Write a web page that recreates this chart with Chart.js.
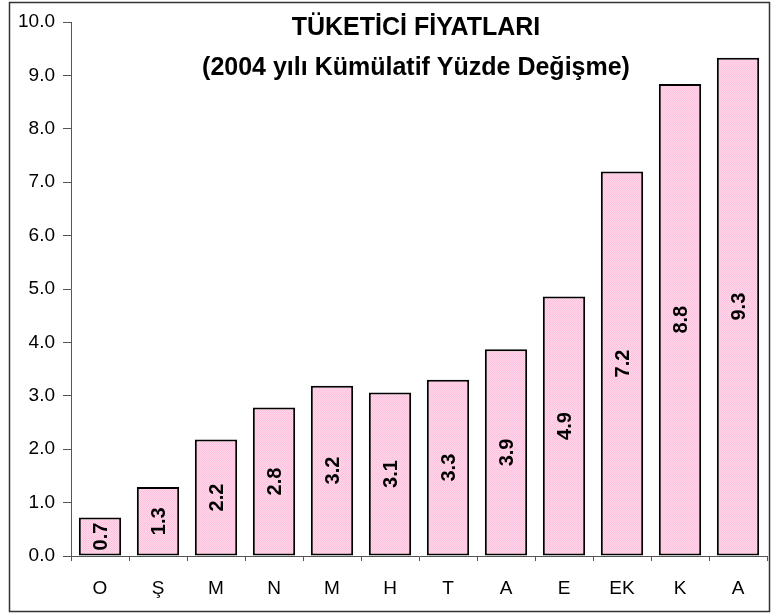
<!DOCTYPE html>
<html>
<head>
<meta charset="utf-8">
<script src="https://cdn.jsdelivr.net/npm/chart.js@4.4.1/dist/chart.umd.min.js"></script>
<style>
body { margin: 0; background: #fff; }
</style>
</head>
<body>
<canvas id="grafico" width="783" height="615"></canvas>
<script>
const aylar = ['O', 'Ş', 'M', 'N', 'M', 'H', 'T', 'A', 'E', 'EK', 'K', 'A'];
const degisim = [0.72, 1.29, 2.18, 2.78, 3.19, 3.06, 3.30, 3.87, 4.86, 7.20, 8.84, 9.33];
const baslik = ['TÜKETİCİ FİYATLARI', '(2004 yılı Kümülatif Yüzde Değişme)'];

const yazi = '"Liberation Sans", Arial, sans-serif';

// pembe noktali dolgu
const desen = document.createElement('canvas');
desen.width = 2;
desen.height = 2;
const dctx = desen.getContext('2d');
dctx.fillStyle = '#ffd6ea';
dctx.fillRect(0, 0, 2, 2);
dctx.fillStyle = '#ffc2de';
dctx.fillRect(0, 0, 1, 1);
dctx.fillRect(1, 1, 1, 1);
const pembe = dctx.createPattern(desen, 'repeat');

const cerceve = {
    id: 'cerceve',
    beforeDraw(chart) {
        const ctx = chart.ctx;
        ctx.save();
        ctx.fillStyle = '#fff';
        ctx.fillRect(0, 0, chart.width, chart.height);
        ctx.strokeStyle = '#333';
        ctx.lineWidth = 1.5;
        ctx.strokeRect(9.5, 2.5, 760, 609);
        ctx.restore();
    }
};

const etiketler = {
    id: 'etiketler',
    afterDatasetsDraw(chart) {
        const ctx = chart.ctx;
        const meta = chart.getDatasetMeta(0);
        ctx.save();
        ctx.font = 'bold 20px ' + yazi;
        ctx.fillStyle = '#000';
        ctx.textAlign = 'center';
        ctx.textBaseline = 'middle';
        meta.data.forEach((bar, i) => {
            ctx.save();
            ctx.translate(bar.x + 1, (bar.y + bar.base) / 2);
            ctx.rotate(-Math.PI / 2);
            ctx.fillText(degisim[i].toFixed(1), 0, 0);
            ctx.restore();
        });
        ctx.restore();
    }
};

const baslikCiz = {
    id: 'baslikCiz',
    afterDraw(chart) {
        const ctx = chart.ctx;
        const orta = (chart.chartArea.left + chart.chartArea.right) / 2;
        ctx.save();
        ctx.font = 'bold 25px ' + yazi;
        ctx.fillStyle = '#000';
        ctx.textAlign = 'center';
        ctx.textBaseline = 'alphabetic';
        ctx.fillText(baslik[0], orta - 3, 35);
        ctx.fillText(baslik[1], orta - 3, 75);
        ctx.restore();
    }
};

new Chart(document.getElementById('grafico'), {
    type: 'bar',
    data: {
        labels: aylar,
        datasets: [{
            data: degisim,
            backgroundColor: pembe,
            borderColor: '#000',
            borderWidth: 2,
            borderSkipped: false,
            barPercentage: 0.73,
            categoryPercentage: 1
        }]
    },
    options: {
        responsive: false,
        animation: false,
        devicePixelRatio: 1,
        layout: { padding: { top: 22, right: 16, left: 0, bottom: 0 } },
        plugins: {
            legend: { display: false },
            tooltip: { enabled: false }
        },
        scales: {
            x: {
                afterFit: s => { s.height = 59; },
                grid: { drawOnChartArea: false, drawTicks: true, tickLength: 5, color: '#555', offset: true },
                border: { display: true, color: '#555', width: 1 },
                ticks: { color: '#000', padding: 16, font: { size: 19, family: yazi } }
            },
            y: {
                min: 0,
                max: 10,
                afterFit: s => { s.width = 71; },
                grid: { drawOnChartArea: false, drawTicks: true, tickLength: 8, color: '#555' },
                border: { display: true, color: '#555', width: 1 },
                ticks: {
                    stepSize: 1,
                    color: '#000',
                    padding: 8,
                    font: { size: 19, family: yazi },
                    callback: v => v.toFixed(1)
                }
            }
        }
    },
    plugins: [cerceve, etiketler, baslikCiz]
});
</script>
</body>
</html>
